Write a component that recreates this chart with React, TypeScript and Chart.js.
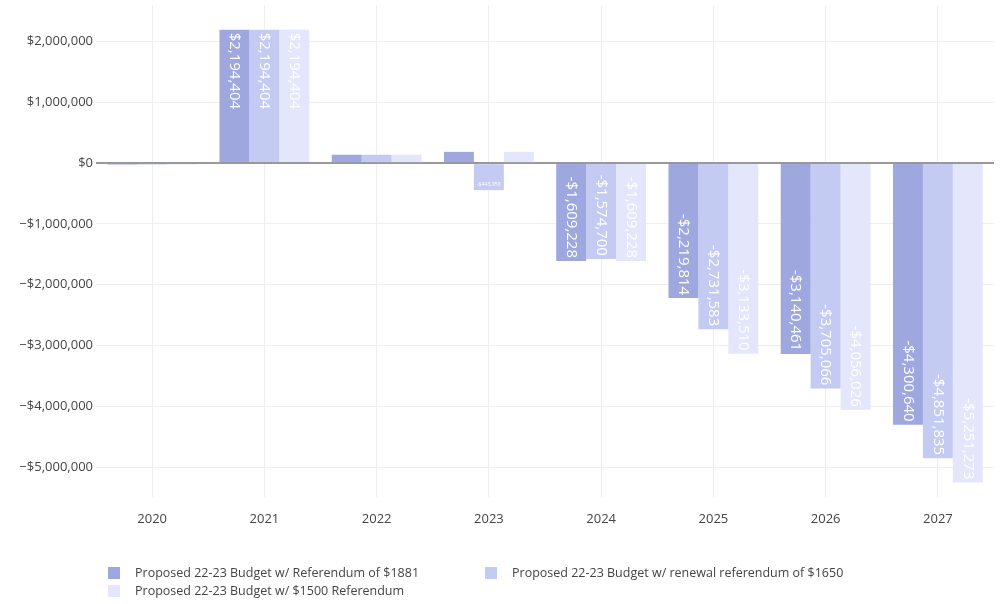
import React, { useEffect, useRef } from "react";
import { Chart, registerables } from "chart.js";

Chart.register(...registerables);

const years = ["2020", "2021", "2022", "2023", "2024", "2025", "2026", "2027"];
const seriesNames = [
  "Proposed 22-23 Budget w/ Referendum of $1881",
  "Proposed 22-23 Budget w/ renewal referendum of $1650",
  "Proposed 22-23 Budget w/ $1500 Referendum",
];
const referendum1881 = [-25000, 2194404, 138000, 185000, -1609228, -2219814, -3140461, -4300640];
const renewal1650 = [-25000, 2194404, 138000, -443958, -1574700, -2731583, -3705066, -4851835];
const referendum1500 = [-25000, 2194404, 138000, 185000, -1609228, -3133510, -4056026, -5251273];
const yTickValues = [-5000000, -4000000, -3000000, -2000000, -1000000, 0, 1000000, 2000000];
const colors = ["rgb(158,167,222)", "rgb(196,203,242)", "rgb(228,231,251)"];
const showLabels = [
  [false, true, false, false, true, true, true, true],
  [false, true, false, true, true, true, true, true],
  [false, true, false, false, true, true, true, true],
];

const FONT = '"Open Sans", "Liberation Sans", sans-serif';

function fmtAxis(v: number) {
  const s = "$" + Math.abs(v).toLocaleString("en-US");
  return v < 0 ? "\u2212" + s : s;
}
function fmtBar(v: number) {
  const s = "$" + Math.abs(v).toLocaleString("en-US");
  return v < 0 ? "-" + s : s;
}

const barLabelPlugin = {
  id: "barLabels",
  afterDatasetsDraw(chart: any) {
    const ctx = chart.ctx;
    const baseSize = 15;
    const pad = 3;
    chart.data.datasets.forEach((ds: any, di: number) => {
      const meta = chart.getDatasetMeta(di);
      meta.data.forEach((bar: any, i: number) => {
        if (!showLabels[di][i]) return;
        const v = ds.data[i] as number;
        const text = fmtBar(v);
        const props = bar.getProps(["x", "y", "base", "width"], true);
        const len = Math.abs(props.base - props.y);
        const bw = props.width;
        ctx.save();
        ctx.font = `${baseSize}px ${FONT}`;
        const tw = ctx.measureText(text).width;
        const th = baseSize;
        const rotScale = Math.min(1, (len - 2 * pad) / tw, (bw - 2 * pad) / th);
        const horScale = Math.min(1, (bw - 2 * pad) / tw, (len - 2 * pad) / th);
        const rotated = rotScale >= horScale;
        const s = rotated ? rotScale : horScale;
        if (s * baseSize < 3) {
          ctx.restore();
          return;
        }
        ctx.font = `${baseSize * s}px ${FONT}`;
        ctx.fillStyle = "#ffffff";
        ctx.textAlign = "center";
        ctx.textBaseline = "middle";
        const neg = v < 0;
        const tip = props.y;
        const extent = rotated ? tw * s : th * s;
        const cy = neg ? tip - pad - extent / 2 : tip + pad + extent / 2;
        ctx.translate(props.x, cy);
        if (rotated) ctx.rotate(Math.PI / 2);
        ctx.fillText(text, 0, 0);
        ctx.restore();
      });
    });
  },
};

export default function App() {
  const ref = useRef<HTMLCanvasElement | null>(null);
  useEffect(() => {
    if (!ref.current) return;
    const seriesData = [referendum1881, renewal1650, referendum1500];
    const chart = new Chart(ref.current, {
      type: "bar",
      data: {
        labels: years,
        datasets: seriesData.map((d, i) => ({
          label: seriesNames[i],
          data: d,
          backgroundColor: colors[i],
          borderWidth: 0,
          categoryPercentage: 0.8,
          barPercentage: 1,
        })),
      },
      options: {
        animation: false,
        responsive: false,
        devicePixelRatio: 1,
        layout: { padding: { top: 5, right: 8, left: 0, bottom: 0 } },
        plugins: { legend: { display: false }, tooltip: { enabled: false } },
        scales: {
          x: {
            border: { display: false },
            grid: { offset: false, color: "#eeeeee", drawTicks: false },
            ticks: { color: "#444", font: { family: FONT, size: 13 }, padding: 14 },
            afterFit(scale: any) {
              scale.height = 107;
              scale.paddingLeft = 0;
              scale.paddingRight = 0;
            },
          },
          y: {
            min: -5490000,
            max: 2600000,
            border: { display: false },
            grid: {
              drawTicks: false,
              color: (c: any) => (c.tick && c.tick.value === 0 ? "#999999" : "#eeeeee"),
              lineWidth: (c: any) => (c.tick && c.tick.value === 0 ? 2 : 1),
            },
            ticks: {
              color: "#444",
              font: { family: FONT, size: 13 },
              padding: 3,
              callback: (v: any) => fmtAxis(Number(v)),
            },
            afterBuildTicks(scale: any) {
              scale.ticks = yTickValues.map((v) => ({ value: v }));
            },
            afterFit(scale: any) {
              scale.width = 96;
              scale.paddingTop = 0;
              scale.paddingBottom = 0;
            },
          },
        },
      },
      plugins: [barLabelPlugin],
    } as any);
    return () => chart.destroy();
  }, []);

  const legendItem = (i: number, left: number, top: number) => (
    <div
      key={i}
      style={{
        position: "absolute",
        left,
        top,
        display: "flex",
        alignItems: "center",
        font: `12.5px ${FONT}`,
        color: "#444",
        whiteSpace: "nowrap",
      }}
    >
      <span
        style={{
          display: "inline-block",
          width: 12,
          height: 12,
          background: colors[i],
          marginRight: 15,
        }}
      />
      {seriesNames[i]}
    </div>
  );

  return (
    <div style={{ position: "absolute", left: 0, top: 0, width: 1002, height: 604, background: "#fff" }}>
      <canvas ref={ref} width={1002} height={604} style={{ position: "absolute", left: 0, top: 0 }} />
      {legendItem(0, 108, 564)}
      {legendItem(1, 485, 564)}
      {legendItem(2, 108, 582)}
    </div>
  );
}
